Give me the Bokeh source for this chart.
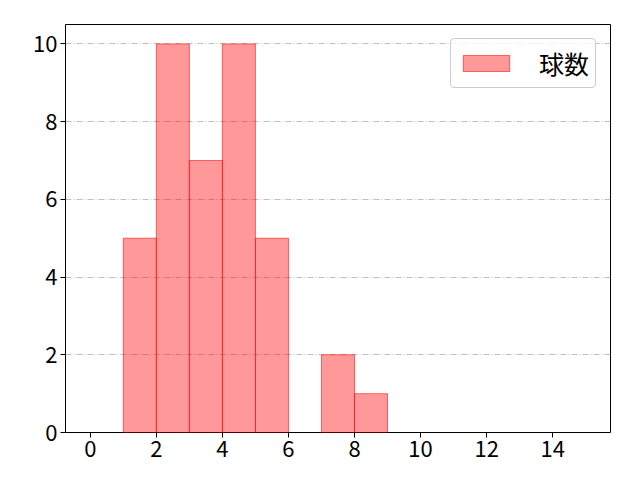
from bokeh.plotting import figure
from bokeh.models import Range1d, FixedTicker, Legend, LegendItem
from bokeh.embed import file_html
from bokeh.resources import INLINE

bin_left = [0, 1, 2, 3, 4, 5, 6, 7, 8, 9, 10, 11, 12, 13, 14]
counts = [0, 5, 10, 7, 10, 5, 0, 2, 1, 0, 0, 0, 0, 0, 0]
bin_right = [b + 1 for b in bin_left]
x_ticks = [0, 2, 4, 6, 8, 10, 12, 14]
y_ticks = [0, 2, 4, 6, 8, 10]
series_name = "球数"

FONT = "Noto Sans CJK JP"

p = figure(width=632, height=472, output_backend="svg", toolbar_location=None,
           x_range=Range1d(-0.75, 15.75), y_range=Range1d(0, 10.5),
           min_border_left=65, min_border_right=22, min_border_top=24, min_border_bottom=40)

lb, rb, tp = [], [], []
for l, r, c in zip(bin_left, bin_right, counts):
    if c > 0:
        lb.append(l); rb.append(r); tp.append(c)

bars = p.quad(left=lb, right=rb, bottom=0, top=tp,
              fill_color="#ff0000", fill_alpha=0.4,
              line_color="#ff0000", line_alpha=0.55, line_width=1)

p.outline_line_color = "black"
p.outline_line_width = 1
p.outline_line_alpha = 1

for ax in (p.xaxis, p.yaxis):
    ax.axis_line_color = None
    ax.major_tick_line_color = "black"
    ax.major_tick_in = 0
    ax.major_tick_out = 5
    ax.minor_tick_line_color = None
    ax.major_label_text_font = FONT
    ax.major_label_text_font_size = "22px"
    ax.major_label_text_color = "black"
    ax.major_label_standoff = 3

p.xaxis.ticker = FixedTicker(ticks=x_ticks)
p.yaxis.ticker = FixedTicker(ticks=y_ticks)

p.xgrid.grid_line_color = None
p.ygrid.grid_line_color = "#b0b0b0"
p.ygrid.grid_line_dash = "6 2 1 2"
p.ygrid.grid_line_width = 0.8

legend = Legend(items=[LegendItem(label=series_name, renderers=[bars])],
                location="top_right")
legend.label_text_font = FONT
legend.label_text_font_size = "25px"
legend.label_text_color = "black"
legend.border_line_color = "#cccccc"
legend.border_line_alpha = 1
legend.border_radius = 4
legend.glyph_width = 58
legend.glyph_height = 20
legend.label_standoff = 24
legend.padding = 6
legend.margin = 14
legend.background_fill_alpha = 0.8
p.add_layout(legend)

open("out.html", "w").write(file_html(p, INLINE))
